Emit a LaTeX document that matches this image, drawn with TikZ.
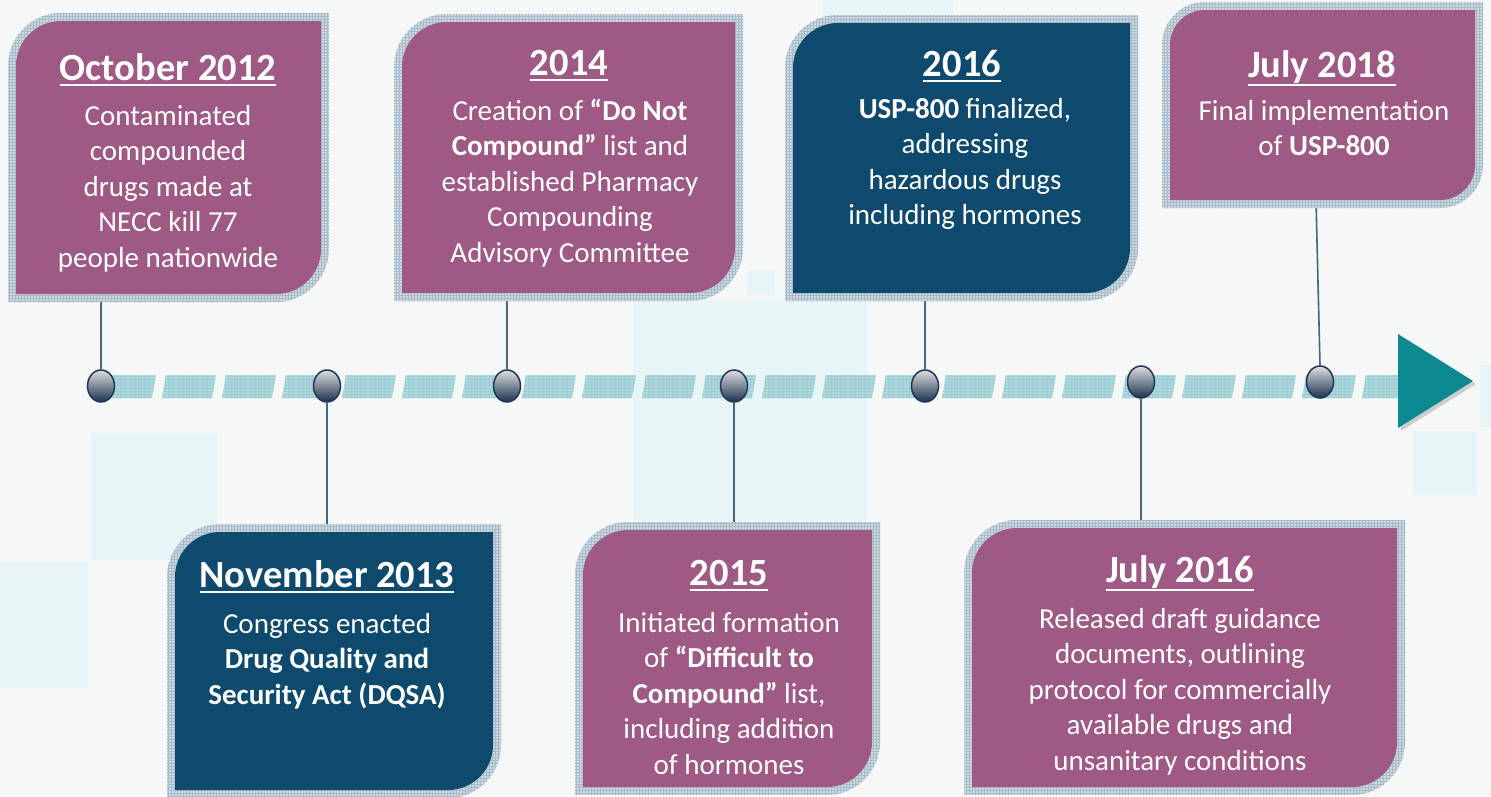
\documentclass[tikz,border=0pt]{standalone}
\usepackage{fontspec}
\setmainfont{Carlito}
\usetikzlibrary{shapes.geometric,patterns}
\definecolor{bgcol}{HTML}{F6F7F7}
\definecolor{sqcol}{HTML}{E7F5F7}
\definecolor{purp}{RGB}{158,89,132}
\definecolor{navy}{RGB}{14,74,110}
\definecolor{framecol}{HTML}{CDD9E1}
\definecolor{framegrid}{HTML}{A8BBC9}
\definecolor{dashcol}{HTML}{B2D9DD}
\definecolor{dashgrid}{HTML}{9CCDD2}
\definecolor{teal}{HTML}{0B8890}
\definecolor{conncol}{HTML}{45667E}
\definecolor{dotline}{HTML}{1E3658}
\newcommand\shp[6]{\path[#1] ({#2},{#5}) -- ({#2},{(#3)+(#6)}) .. controls ({#2},{(#3)+0.448*(#6)}) and ({(#2)+0.448*(#6)},{#3}) .. ({(#2)+(#6)},{#3}) -- ({#4},{#3}) -- ({#4},{(#5)-(#6)}) .. controls ({#4},{(#5)-0.448*(#6)}) and ({(#4)-0.448*(#6)},{#5}) .. ({(#4)-(#6)},{#5}) -- cycle;}
\newcommand\evbox[6]{%
  \shp{fill=framecol}{#1-8}{#2-8}{#3+8}{#4+8}{#5+8}%
  \shp{pattern=grid,pattern color=framegrid}{#1-8}{#2-8}{#3+8}{#4+8}{#5+8}%
  \shp{fill=#6}{#1}{#2}{#3}{#4}{#5}}
\newcommand\uln[1]{\setbox0\hbox{#1}\leavevmode\rlap{\rule[\dimexpr-\dp0/2-6pt\relax]{\wd0}{2pt}}\box0}
\newcommand\fl{\rule{0pt}{23pt}}
\tikzset{
  ttl/.style={anchor=base,inner sep=0pt,text=white,font=\fontsize{38.5}{46}\selectfont\bfseries},
  bdy/.style={anchor=north,inner sep=0pt,text=white,align=center,font=\fontsize{29}{35.5}\selectfont},
  conn/.style={draw=conncol,line width=1.6pt},
  dot/.style={ellipse,draw=dotline,line width=1.5pt,minimum width=27pt,minimum height=32pt,inner sep=0pt,top color=gray!25,bottom color=dotline!90!black,shading angle=0}
}
\begin{document}
\begin{tikzpicture}[x=1pt,y=-1pt]
\useasboundingbox (0,0) rectangle (1491,796);
\clip (0,0) rectangle (1491,796);
\fill[bgcol] (0,0) rectangle (1491,796);
% background squares
\fill[sqcol] (91,433) rectangle (217,560);
\fill[sqcol] (0,562) rectangle (88,688);
\fill[sqcol] (633,300) rectangle (867,530);
\fill[sqcol] (747,270) rectangle (775,295);
\fill[sqcol] (823,0) rectangle (953,40);
\fill[sqcol] (1413,431) rectangle (1477,495);
\fill[sqcol] (1480,365) rectangle (1491,427);
% dashed timeline
\foreach \i in {0,...,21}{
  \pgfmathsetmacro\xa{102+60*\i}
  \fill[dashcol] (\xa,398) -- (\xa+50,398) -- (\xa+54,375) -- (\xa+4,375) -- cycle;
  \fill[pattern=grid,pattern color=dashgrid] (\xa,398) -- (\xa+50,398) -- (\xa+54,375) -- (\xa+4,375) -- cycle;
}
% arrow head
\fill[gray,opacity=0.35] (1401,337) -- (1401,431) -- (1476,384) -- cycle;
\fill[teal] (1398,334) -- (1398,428) -- (1473,381) -- cycle;
% anchor coordinates on the boxes
\coordinate (b1) at (101,294);
\coordinate (b2) at (507,293);
\coordinate (b3) at (925,293);
\coordinate (b4) at (1316,200);
\coordinate (b5) at (327,532);
\coordinate (b6) at (734,530);
\coordinate (b7) at (1141,528);
% timeline dots
\node[dot] (c1) at (101,386) {};
\node[dot] (c2) at (327,386) {};
\node[dot] (c3) at (507,386) {};
\node[dot] (c4) at (734,386) {};
\node[dot] (c5) at (925,386) {};
\node[dot] (c6) at (1141,382) {};
\node[dot] (c7) at (1320,382) {};
% connectors
\draw[conn] (b1) -- (c1.north);
\draw[conn] (b2) -- (c3.north);
\draw[conn] (b3) -- (c5.north);
\draw[conn] (b4) -- (c7.north);
\draw[conn] (c2.south) -- (b5);
\draw[conn] (c4.south) -- (b6);
\draw[conn] (c6.south) -- (b7);
% boxes
\evbox{16}{21}{321}{294}{45}{purp}
\evbox{402}{22}{735}{293}{45}{purp}
\evbox{793}{23}{1130}{293}{45}{navy}
\evbox{1170}{10}{1475}{200}{35}{purp}
\evbox{175}{532}{493}{790}{45}{navy}
\evbox{583}{530}{872}{787}{45}{purp}
\evbox{972}{528}{1397}{787}{45}{purp}
% texts
\node[ttl] (t1) at (168,80) {\uln{October 2012}};
\node[bdy] (d1) at (168,102) {\fl Contaminated\\compounded\\drugs made at\\NECC kill 77\\people nationwide};
\node[ttl] (t2) at (569,75) {\uln{2014}};
\node[bdy] (d2) at (570,97) {\fl Creation of \textbf{“Do Not}\\\textbf{Compound”} list and\\established Pharmacy\\Compounding\\Advisory Committee};
\node[ttl] (t3) at (962,76) {\uln{2016}};
\node[bdy] (d3) at (965,95) {\fl\textbf{USP-800} finalized,\\addressing\\hazardous drugs\\including hormones};
\node[ttl] (t4) at (1322,77) {\uln{July 2018}};
\node[bdy] (d4) at (1324,97) {\fl Final implementation\\of \textbf{USP-800}};
\node[ttl] (t5) at (327,587) {\uln{November 2013}};
\node[bdy] (d5) at (327,610) {\fl Congress enacted\\\textbf{Drug Quality and}\\\textbf{Security Act (DQSA)}};
\node[ttl] (t6) at (729,585) {\uln{2015}};
\node[bdy] (d6) at (729,609) {\fl Initiated formation\\of \textbf{“Difficult to}\\\textbf{Compound”} list,\\including addition\\of hormones};
\node[ttl] (t7) at (1180,582) {\uln{July 2016}};
\node[bdy] (d7) at (1180,605) {\fl Released draft guidance\\documents, outlining\\protocol for commercially\\available drugs and\\unsanitary conditions};
\end{tikzpicture}
\end{document}
